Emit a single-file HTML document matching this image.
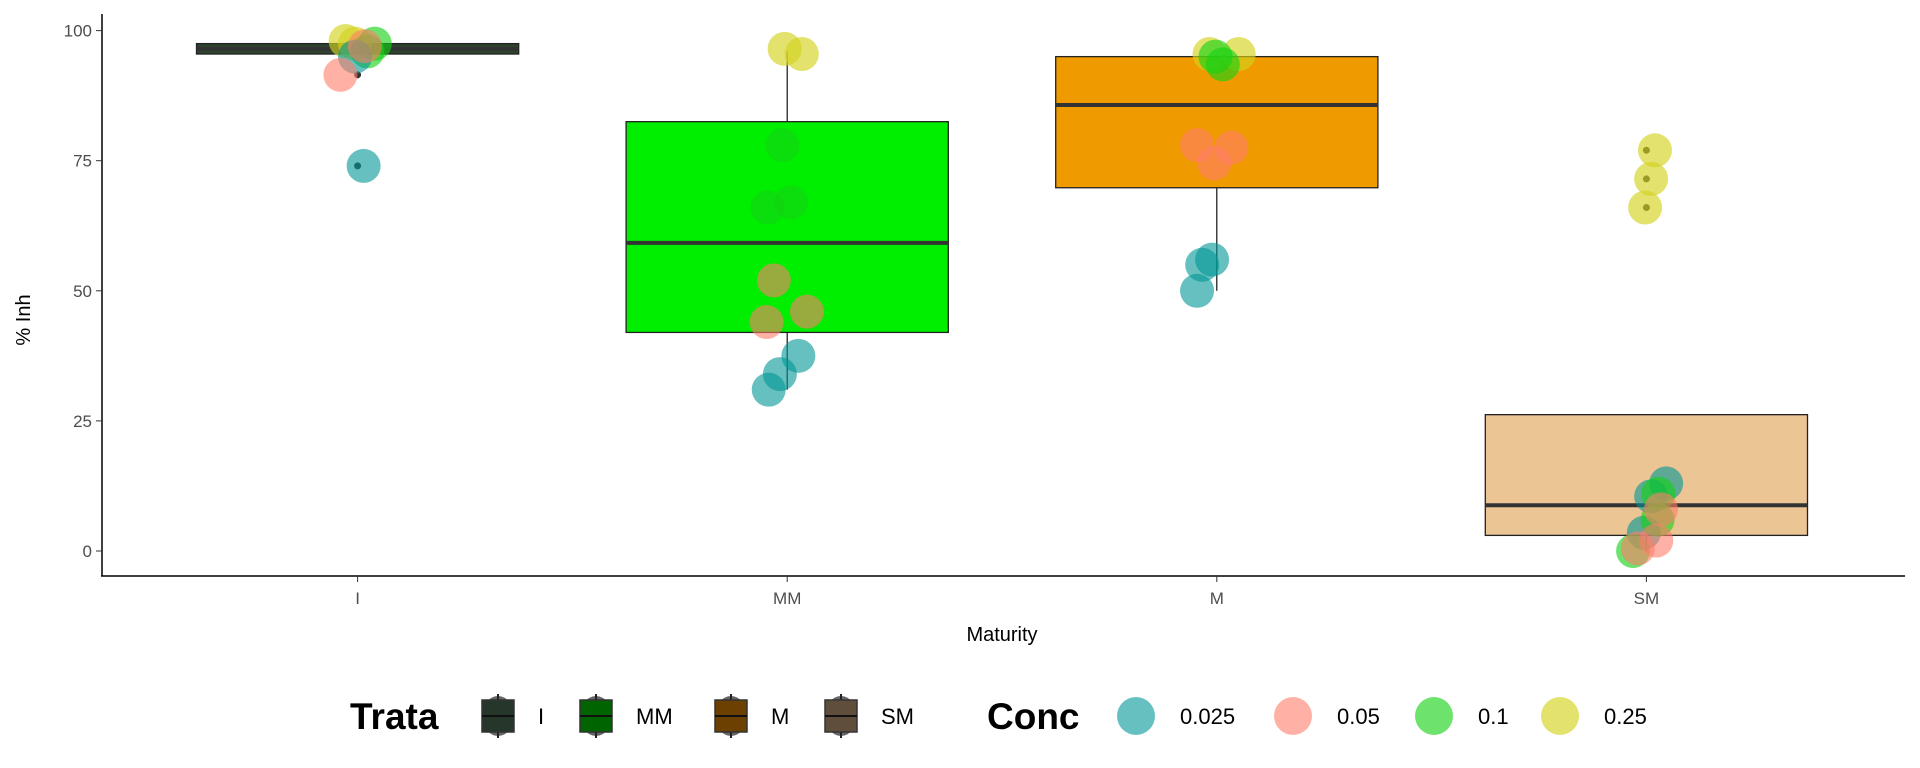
<!DOCTYPE html>
<html><head><meta charset="utf-8"><style>
html,body{margin:0;padding:0;background:#fff;width:1920px;height:768px;overflow:hidden;font-family:"Liberation Sans",sans-serif}
</style></head><body>
<svg id="chart" width="1920" height="768" xmlns="http://www.w3.org/2000/svg"></svg>
<script>
const categories = ["I","MM","M","SM"];
const boxQ1 = [95.5, 42, 69.8, 3];
const boxMedian = [96.5, 59.2, 85.7, 8.8];
const boxQ3 = [97.5, 82.5, 95, 26.2];
const whiskerLow = [95.5, 31, 50, 0];
const whiskerHigh = [97.5, 96, 95, 26.2];
const outlierCat = [0,0,3,3,3];
const outlierVal = [91.5,74,66,71.5,77];
const yTicks = [0,25,50,75,100];
const concLevels = ["0.025","0.05","0.1","0.25"];
const pointCat = [0,0,0,0,0,0,0,0, 1,1,1,1,1,1,1,1,1,1,1, 2,2,2,2,2,2,2,2,2,2, 3,3,3,3,3,3,3,3,3,3,3,3];
const pointConc = [3,3,2,2,0,1,1,0, 3,3,2,2,2,1,1,1,0,0,0, 3,3,2,2,1,1,1,0,0,0, 3,3,3,0,0,0,2,2,2,1,1,1];
const pointVal = [98,97.5,97.5,96,95,91.5,97,74, 96.5,95.5,78,66,67,52,46,44,37.5,34,31, 95.5,95.5,95,93.5,78,77.5,74.5,56,55,50, 77,71.5,66,13,10.5,3.5,11,6,0,8,2,0.5];
const pointJitter = [-0.028,-0.006,0.04,0.023,-0.006,-0.04,0.017,0.014, -0.006,0.034,-0.011,-0.046,0.009,-0.031,0.046,-0.048,0.026,-0.017,-0.043, -0.017,0.051,-0.003,0.014,-0.046,0.034,-0.006,-0.011,-0.034,-0.046, 0.02,0.011,-0.003,0.046,0.011,-0.006,0.028,0.026,-0.031,0.034,0.023,-0.02];

const svg = document.getElementById('chart');
const NS = "http://www.w3.org/2000/svg";
const X0 = 357.6, XSTEP = 429.6;
const xScale = c => X0 + c * XSTEP;
const yScale = v => 551 - v * (551 - 30.6) / 100;
const concColors = ["rgba(0,150,150,0.6)","rgba(255,125,105,0.6)","rgba(20,210,20,0.62)","rgba(210,210,30,0.65)"];
const boxFills = ["#2c432c","#00ee00","#ef9b00","#ecc594"];
const legendFills = ["#26362a","#006400","#6b4000","#5f4e3c"];
function mk(tag, attrs, parent){const e=document.createElementNS(NS,tag);for(const k in attrs)e.setAttribute(k,attrs[k]);(parent||svg).appendChild(e);return e;}

categories.forEach((c,i)=>{
  const g = mk('g',{});
  
  
  const cx = xScale(i), hw = 0.375*XSTEP;
  mk('line',{x1:cx,x2:cx,y1:yScale(whiskerHigh[i]),y2:yScale(boxQ3[i]),stroke:'#111','stroke-width':1.2},g);
  mk('line',{x1:cx,x2:cx,y1:yScale(boxQ1[i]),y2:yScale(whiskerLow[i]),stroke:'#111','stroke-width':1.2},g);
  mk('rect',{x:cx-hw,y:yScale(boxQ3[i]),width:2*hw,height:yScale(boxQ1[i])-yScale(boxQ3[i]),fill:boxFills[i],stroke:'#222','stroke-width':1.3},g);
  mk('line',{x1:cx-hw,x2:cx+hw,y1:yScale(boxMedian[i]),y2:yScale(boxMedian[i]),stroke:'#333','stroke-width':4},g);
});
outlierVal.forEach((v,i)=>{
  const o = mk('circle',{cx:xScale(outlierCat[i]),cy:yScale(v),r:3.5,fill:'#333'});
  
  
});
pointVal.forEach((v,i)=>{
  const p = mk('circle',{cx:xScale(pointCat[i]+pointJitter[i]),cy:yScale(v),r:17,fill:concColors[pointConc[i]]});
  
  
});
const ax = mk('g',{});


mk('line',{x1:102,x2:102,y1:14,y2:576,stroke:'#000','stroke-width':1.5},ax);
mk('line',{x1:101,x2:1905,y1:576,y2:576,stroke:'#000','stroke-width':1.5},ax);
yTicks.forEach(t=>{
  const y=yScale(t);
  mk('line',{x1:96,x2:102,y1:y,y2:y,stroke:'#333'},ax);
  const tx=mk('text',{x:92,y:y+6,'text-anchor':'end','font-size':17,fill:'#4d4d4d'},ax);
  tx.textContent=t;
  
  
});
categories.forEach((c,i)=>{
  const x=xScale(i);
  mk('line',{x1:x,x2:x,y1:576,y2:582,stroke:'#333'},ax);
  const tx=mk('text',{x:x,y:604,'text-anchor':'middle','font-size':17,fill:'#4d4d4d'},ax);
  tx.textContent=c;
  
  
});
const xt=mk('text',{x:1002,y:641,'text-anchor':'middle','font-size':20,fill:'#000'});
xt.textContent='Maturity';


const yt=mk('text',{x:0,y:0,transform:'translate(30,320) rotate(-90)','text-anchor':'middle','font-size':20,fill:'#000'});
yt.textContent='% Inh';



const lg = mk('g',{});


const t1=mk('text',{x:350,y:729,'font-size':37,'font-weight':'bold',fill:'#000'},lg);
t1.textContent='Trata';
const keyX=[498,596,731,841], labX=[538,636,771,881];
categories.forEach((c,i)=>{
  const k=mk('g',{},lg);
  
  
  mk('ellipse',{cx:keyX[i],cy:716,rx:16,ry:20,fill:'#666'},k);
  mk('line',{x1:keyX[i],x2:keyX[i],y1:694,y2:738,stroke:'#222','stroke-width':2},k);
  mk('rect',{x:keyX[i]-16,y:700,width:32,height:32,fill:legendFills[i],stroke:'#333','stroke-width':1.5},k);
  mk('line',{x1:keyX[i]-16,x2:keyX[i]+16,y1:716,y2:716,stroke:'#111','stroke-width':2},k);
  const tx=mk('text',{x:labX[i],y:724,'font-size':22,fill:'#000'},k);
  tx.textContent=c;
});
const t2=mk('text',{x:987,y:729,'font-size':37,'font-weight':'bold',fill:'#000'},lg);
t2.textContent='Conc';
const ckX=[1136,1293,1434,1560], clX=[1180,1337,1478,1604];
concLevels.forEach((c,i)=>{
  const k=mk('g',{},lg);
  
  
  mk('circle',{cx:ckX[i],cy:716,r:19,fill:concColors[i]},k);
  const tx=mk('text',{x:clX[i],y:724,'font-size':22,fill:'#000'},k);
  tx.textContent=c;
});
</script>
</body></html>
